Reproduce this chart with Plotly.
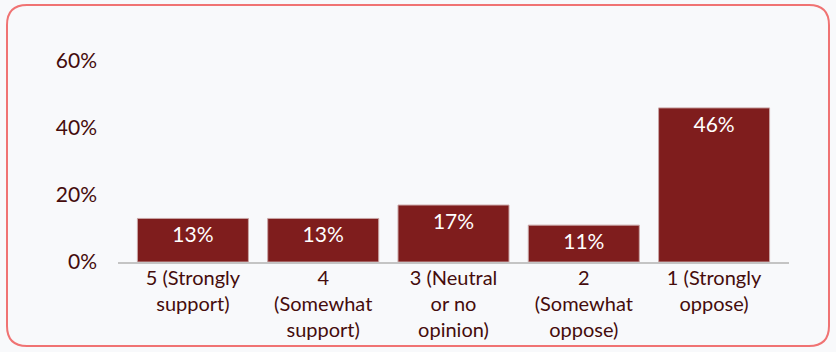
import plotly.graph_objects as go

categories = ["5 (Strongly<br>support)", "4<br>(Somewhat<br>support)", "3 (Neutral<br>or no<br>opinion)",
              "2<br>(Somewhat<br>oppose)", "1 (Strongly<br>oppose)"]
values = [13, 13, 17, 11, 46]
labels = ["13%", "13%", "17%", "11%", "46%"]
tick_vals = [0, 20, 40, 60]
tick_text = ["0%", "20%", "40%", "60%"]

W, H = 836, 352
L, R, T, B = 118, 47, 61, 90
pw, ph = W - L - R, H - T - B

def px(x):
    return (x - L) / pw

def py(y):
    return (H - B - y) / ph

# rounded border path (pixel coords converted to paper coords)
x0, y0, x1, y1, r = 7, 5, 829, 346, 20
pts = [
    ("M", (x0 + r, y0)), ("L", (x1 - r, y0)), ("Q", (x1, y0), (x1, y0 + r)),
    ("L", (x1, y1 - r)), ("Q", (x1, y1), (x1 - r, y1)), ("L", (x0 + r, y1)),
    ("Q", (x0, y1), (x0, y1 - r)), ("L", (x0, y0 + r)), ("Q", (x0, y0), (x0 + r, y0)),
]
path = ""
for p in pts:
    cmd = p[0]
    coords = " ".join(f"{px(a):.5f},{py(b):.5f}" for a, b in p[1:])
    path += f"{cmd}{coords} "
path += "Z"

fig = go.Figure(go.Bar(
    x=categories, y=values, text=labels,
    textposition="inside", insidetextanchor="end",
    textfont=dict(color="white", size=21, family="Lato"),
    marker=dict(color="#7f1d1d", line=dict(color="#c9a5a5", width=1)),
    hoverinfo="skip",
))

fig.update_layout(
    width=W, height=H,
    margin=dict(l=L, r=R, t=T, b=B, autoexpand=False),
    paper_bgcolor="#f8f9fb", plot_bgcolor="#f8f9fb",
    font=dict(family="Lato", color="#450c0c", size=20),
    bargap=0.148,
    showlegend=False,
    uniformtext=dict(minsize=21, mode="show"),
    shapes=[dict(type="path", xref="paper", yref="paper", path=path,
                 line=dict(color="#f07373", width=2), fillcolor="rgba(0,0,0,0)",
                 layer="below")],
)
fig.update_xaxes(range=[-0.575, 4.575], showline=True, linecolor="#c4c4c4", linewidth=2,
                 showgrid=False, ticks="", tickfont=dict(size=20), tickangle=0, automargin=False,
                 ticklabelstandoff=-3)
fig.update_yaxes(range=[0, 60], tickvals=tick_vals, ticktext=tick_text, showgrid=False,
                 zeroline=False, showline=False, ticklabelstandoff=20, tickfont=dict(size=21),
                 automargin=False)

fig.write_html("out.html")
